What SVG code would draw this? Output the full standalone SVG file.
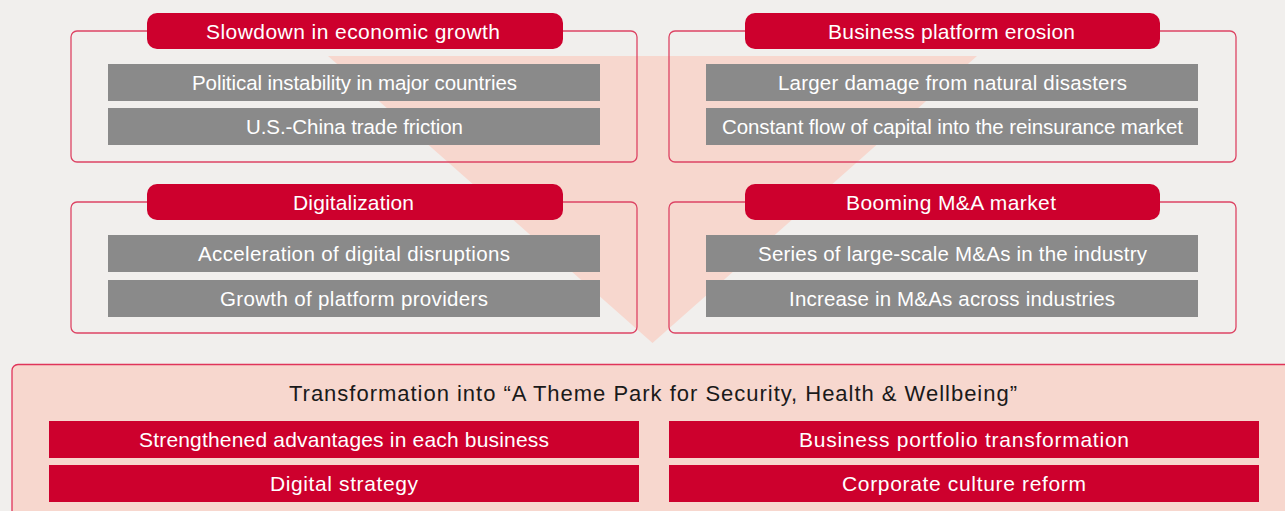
<svg xmlns="http://www.w3.org/2000/svg" width="1285" height="511" viewBox="0 0 1285 511">
<style>
text{font-family:"Liberation Sans",Arial,sans-serif;text-anchor:middle}
.box{fill:none;stroke:#dd4464;stroke-width:1.3}
.tab{fill:#cd002d}
.tabt{fill:#fff;font-size:21px}
.bar{fill:#8a8a8a}
.bart{fill:#fff;font-size:20.5px}
.rbar{fill:#cd002d}
.rbart{fill:#fff;font-size:21px}
</style>
<rect x="0" y="0" width="1285" height="511" fill="#f1efed"/>
<g id="funnel"><polygon points="328,56 977,56 652.5,343" fill="#f7d7ce"/></g>
<g id="connectors"></g>
<g id="node-slowdown">
<rect class="box" x="71" y="31" width="566" height="131" rx="6"/>
<rect class="tab" x="147" y="13" width="416" height="36" rx="10"/>
<text class="tabt" x="353" y="39" textLength="294" lengthAdjust="spacing">Slowdown in economic growth</text>
<rect class="bar" x="108" y="64" width="492" height="37"/>
<text class="bart" x="354.5" y="90" textLength="325" lengthAdjust="spacing">Political instability in major countries</text>
<rect class="bar" x="108" y="108" width="492" height="37"/>
<text class="bart" x="354.5" y="134" textLength="217" lengthAdjust="spacing">U.S.-China trade friction</text>
</g>
<g id="node-erosion">
<rect class="box" x="669" y="31" width="567" height="131" rx="6"/>
<rect class="tab" x="745" y="13" width="415" height="36" rx="10"/>
<text class="tabt" x="951.5" y="39" textLength="247" lengthAdjust="spacing">Business platform erosion</text>
<rect class="bar" x="706" y="64" width="492" height="37"/>
<text class="bart" x="952.5" y="90" textLength="349" lengthAdjust="spacing">Larger damage from natural disasters</text>
<rect class="bar" x="706" y="108" width="492" height="37"/>
<text class="bart" x="952.5" y="134" textLength="461" lengthAdjust="spacing">Constant flow of capital into the reinsurance market</text>
</g>
<g id="node-digital">
<rect class="box" x="71" y="202" width="566" height="131" rx="6"/>
<rect class="tab" x="147" y="184" width="416" height="36" rx="10"/>
<text class="tabt" x="353.5" y="210" textLength="121" lengthAdjust="spacing">Digitalization</text>
<rect class="bar" x="108" y="235" width="492" height="37"/>
<text class="bart" x="354" y="261" textLength="312" lengthAdjust="spacing">Acceleration of digital disruptions</text>
<rect class="bar" x="108" y="280" width="492" height="37"/>
<text class="bart" x="354" y="306" textLength="268" lengthAdjust="spacing">Growth of platform providers</text>
</g>
<g id="node-ma">
<rect class="box" x="669" y="202" width="567" height="131" rx="6"/>
<rect class="tab" x="745" y="184" width="415" height="36" rx="10"/>
<text class="tabt" x="951" y="210" textLength="210" lengthAdjust="spacing">Booming M&amp;A market</text>
<rect class="bar" x="706" y="235" width="492" height="37"/>
<text class="bart" x="952.5" y="261" textLength="389" lengthAdjust="spacing">Series of large-scale M&amp;As in the industry</text>
<rect class="bar" x="706" y="280" width="492" height="37"/>
<text class="bart" x="952" y="306" textLength="326" lengthAdjust="spacing">Increase in M&amp;As across industries</text>
</g>
<g id="node-transformation">
<rect x="12" y="364.5" width="1290" height="160" rx="6" fill="#f7d7ce" stroke="#e0345a" stroke-width="1.3"/>
<text x="653" y="401" font-size="22px" fill="#1a1a1a" textLength="728" lengthAdjust="spacing">Transformation into “A Theme Park for Security, Health &amp; Wellbeing”</text>
<rect class="rbar" x="49" y="421" width="590" height="37"/>
<text class="rbart" x="344" y="447" textLength="410" lengthAdjust="spacing">Strengthened advantages in each business</text>
<rect class="rbar" x="669" y="421" width="590" height="37"/>
<text class="rbart" x="964" y="447" textLength="330" lengthAdjust="spacing">Business portfolio transformation</text>
<rect class="rbar" x="49" y="465" width="590" height="37"/>
<text class="rbart" x="344" y="491" textLength="148" lengthAdjust="spacing">Digital strategy</text>
<rect class="rbar" x="669" y="465" width="590" height="37"/>
<text class="rbart" x="964" y="491" textLength="244" lengthAdjust="spacing">Corporate culture reform</text>
</g>
</svg>
